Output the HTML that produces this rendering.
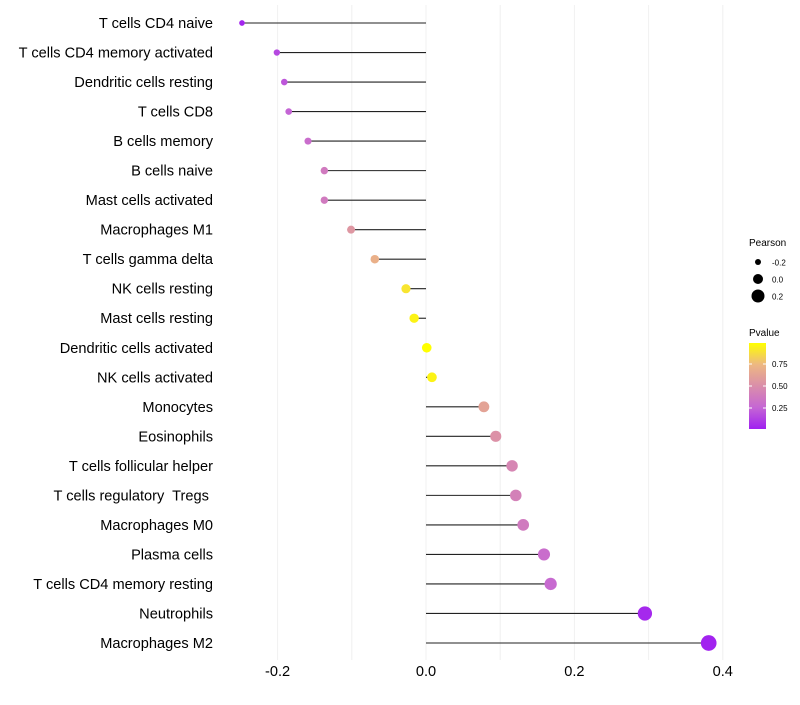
<!DOCTYPE html>
<html><head><meta charset="utf-8"><style>
body{margin:0;background:#fff;font-family:"Liberation Sans",sans-serif;}
svg text{font-family:"Liberation Sans",sans-serif;white-space:pre;}
</style></head><body>
<svg id="chart" width="800" height="700">
<defs><linearGradient id="pg" x1="0" y1="1" x2="0" y2="0">
<stop offset="0" stop-color="#A020F0"/><stop offset="0.25" stop-color="#C566D4"/><stop offset="0.5" stop-color="#DA8EAA"/><stop offset="0.75" stop-color="#EDB882"/><stop offset="1" stop-color="#FFFF00"/></linearGradient></defs>
<g id="grid"></g><g id="marks"></g><g id="labels"></g><g id="xticks"></g>
<g id="legend">
<text x="749" y="246" font-size="10" fill="#000">Pearson</text>
<circle cx="758" cy="262" r="3" fill="#000"/>
<text x="772" y="265.5" font-size="8">-0.2</text>
<circle cx="758" cy="279" r="5" fill="#000"/>
<text x="772" y="282.5" font-size="8">0.0</text>
<circle cx="758" cy="296" r="6.5" fill="#000"/>
<text x="772" y="299.5" font-size="8">0.2</text>
<text x="749" y="336" font-size="10">Pvalue</text>
<rect x="749" y="343" width="17" height="86" fill="url(#pg)"/>
<line x1="749" x2="752" y1="364" y2="364" stroke="#fff"/><line x1="763" x2="766" y1="364" y2="364" stroke="#fff"/>
<line x1="749" x2="752" y1="386" y2="386" stroke="#fff"/><line x1="763" x2="766" y1="386" y2="386" stroke="#fff"/>
<line x1="749" x2="752" y1="408" y2="408" stroke="#fff"/><line x1="763" x2="766" y1="408" y2="408" stroke="#fff"/>
<text x="772" y="367" font-size="8">0.75</text>
<text x="772" y="389" font-size="8">0.50</text>
<text x="772" y="411" font-size="8">0.25</text>
</g>
</svg>
<script>
const categories=["T cells CD4 naive","T cells CD4 memory activated","Dendritic cells resting","T cells CD8","B cells memory","B cells naive","Mast cells activated","Macrophages M1","T cells gamma delta","NK cells resting","Mast cells resting","Dendritic cells activated","NK cells activated","Monocytes","Eosinophils","T cells follicular helper","T cells regulatory  Tregs ","Macrophages M0","Plasma cells","T cells CD4 memory resting","Neutrophils","Macrophages M2"];
const pearson=[-0.248,-0.201,-0.191,-0.185,-0.159,-0.137,-0.137,-0.101,-0.069,-0.027,-0.016,0.001,0.008,0.078,0.094,0.116,0.121,0.131,0.159,0.168,0.295,0.381];
const pvalues=[0.03,0.15,0.2,0.25,0.3,0.38,0.38,0.55,0.7,0.9,0.95,0.99,0.95,0.62,0.52,0.45,0.42,0.38,0.3,0.28,0.04,0.02];
const xTicks=[-0.2,0,0.2,0.4];
const xTickLabels=["-0.2","0.0","0.2","0.4"];
const gridMinor=[-0.1,0.1,0.3];
const NS="http://www.w3.org/2000/svg";
const x=v=>426+v*742;
const y=i=>23+i*(620/21);
function mk(t,a,p){const e=document.createElementNS(NS,t);for(const k in a)e.setAttribute(k,a[k]);p.appendChild(e);return e;}
const stops=[[0,[160,32,240]],[0.25,[197,102,212]],[0.5,[218,142,170]],[0.75,[237,184,130]],[1,[255,255,0]]];
function col(p){const t=Math.max(0,Math.min(1,(p-0.01)/0.98));for(let i=1;i<stops.length;i++){if(t<=stops[i][0]){const a=stops[i-1],b=stops[i],f=(t-a[0])/(b[0]-a[0]);return "rgb("+a[1].map((c,j)=>Math.round(c+(b[1][j]-c)*f)).join(",")+")";}}return "rgb(255,255,0)";}
const G=document.getElementById("grid"),M=document.getElementById("marks"),L=document.getElementById("labels"),X=document.getElementById("xticks");
xTicks.concat(gridMinor).forEach(v=>{const l=mk("line",{x1:x(v),x2:x(v),y1:5,y2:660,stroke:"#f0f0f0","stroke-width":1},G);

});
categories.forEach((c,i)=>{
const l=mk("line",{x1:x(0),x2:x(pearson[i]),y1:y(i),y2:y(i),stroke:"#222","stroke-width":1.1},M);


const r=Math.max(1.5,4.8+8*pearson[i]);
const d=mk("circle",{cx:x(pearson[i]),cy:y(i),r:r,fill:col(pvalues[i])},M);


const t=mk("text",{x:213,y:y(i)+5,"text-anchor":"end","font-size":14.6,fill:"#000"},L);t.textContent=c;


});
xTicks.forEach((v,i)=>{const t=mk("text",{x:x(v),y:676,"text-anchor":"middle","font-size":14.6,fill:"#000"},X);t.textContent=xTickLabels[i];

});
</script>
</body></html>
